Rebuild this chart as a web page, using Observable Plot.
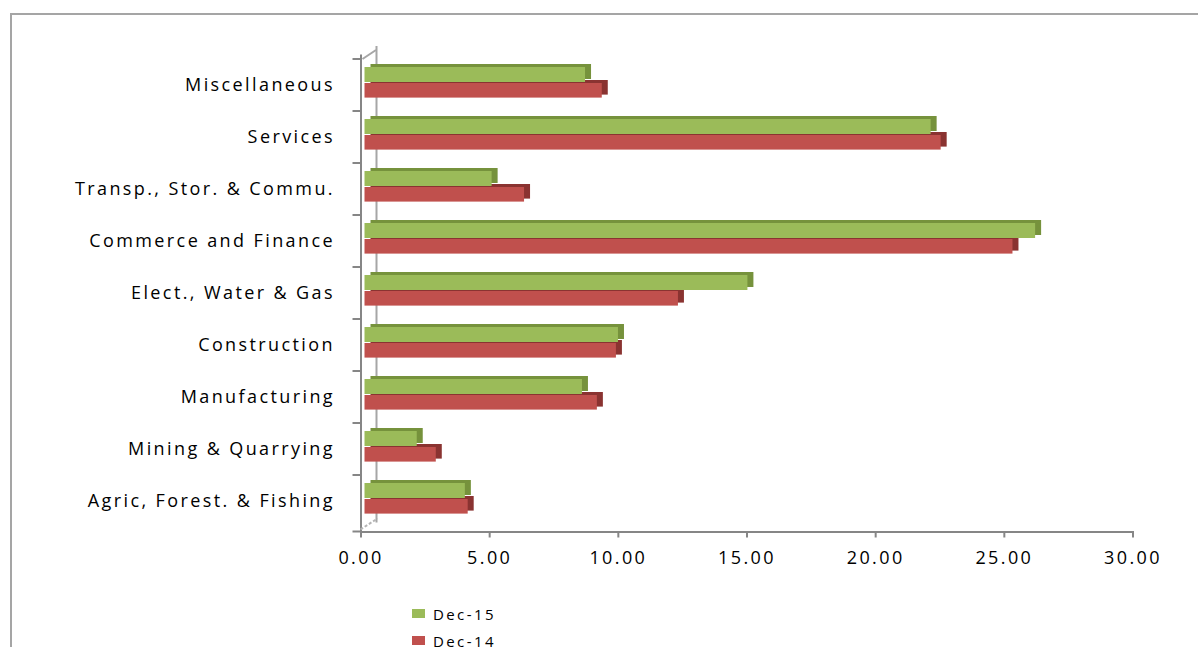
<!DOCTYPE html>
<html><head><meta charset="utf-8">
<script src="https://cdn.jsdelivr.net/npm/d3@7"></script>
<script src="https://cdn.jsdelivr.net/npm/@observablehq/plot@0.6"></script>
<style>
html,body{margin:0;padding:0;background:#fff;overflow:hidden;width:1198px;height:647px;}
#frame{position:absolute;left:10px;top:13px;width:1200px;height:700px;border-left:2px solid #a5a5a5;border-top:2px solid #a5a5a5;}
#chart{position:absolute;left:0;top:0;}
.lg{position:absolute;left:412px;font-family:"Open Sans";font-size:15px;letter-spacing:2.4px;color:#000;line-height:12px;height:12px;}
.lg span.sw{position:absolute;left:0;width:13px;height:9px;}
.lg span.tx{position:absolute;left:21px;white-space:nowrap;}
</style></head><body>
<div id="frame"></div><div id="chart"></div>
<div id="legend"></div>
<script>
const categories = ["Agric, Forest. & Fishing","Mining & Quarrying","Manufacturing","Construction","Elect., Water & Gas","Commerce and Finance","Transp., Stor. & Commu.","Services","Miscellaneous"];
const dec15 = [3.90, 2.03, 8.45, 9.85, 14.88, 26.06, 4.94, 22.00, 8.57];
const dec14 = [4.01, 2.77, 9.03, 9.77, 12.18, 25.18, 6.20, 22.39, 9.22];
const seriesNames = ["Dec-15", "Dec-14"];
const seriesColors = ["#9BBB59", "#C0504D"];
const seriesDark = ["#76923C", "#8A3331"];
const xTicks = [0, 5, 10, 15, 20, 25, 30];

const g = categories.map((c, i) => ({cat: c, value: dec15[i]}));
const r = categories.map((c, i) => ({cat: c, value: dec14[i]}));

const W = 1198, H = 590;
const plot = Plot.plot({
  width: W, height: H,
  marginLeft: 360.5, marginRight: 65.5, marginTop: 55, marginBottom: 58.5,
  style: {fontFamily: "Open Sans", fontSize: "18px", color: "#000", background: "transparent", overflow: "visible", letterSpacing: "2.4px"},
  x: {domain: [0, 30], ticks: xTicks},
  y: {domain: categories.slice().reverse(), padding: 0},
  marks: [
    Plot.ruleX([0], {dx: 15.5, dy: -9, stroke: "#a6a6a6", strokeWidth: 2}),
    Plot.barX(r, {x: "value", y: "cat", fill: seriesDark[1], insetTop: 24, insetBottom: 13.4, dx: 10, dy: -3}),
    Plot.barX(r, {x: "value", y: "cat", fill: seriesColors[1], insetTop: 24, insetBottom: 13.4, dx: 4}),
    Plot.barX(g, {x: "value", y: "cat", fill: seriesDark[0], insetTop: 8, insetBottom: 29, dx: 10, dy: -3}),
    Plot.barX(g, {x: "value", y: "cat", fill: seriesColors[0], insetTop: 8, insetBottom: 29, dx: 4}),
    Plot.frame({anchor: "left", stroke: "#868686", strokeWidth: 2}),
    Plot.frame({anchor: "bottom", stroke: "#868686", strokeWidth: 2}),
    Plot.axisX({ticks: xTicks, tickSize: 6, tickPadding: 13, stroke: "#868686", strokeWidth: 2, fontSize: 18, fill: "#000", tickFormat: d3.format(".2f"), label: null}),
    Plot.axisY({tickSize: 0, tickPadding: 26, fontSize: 18, fill: "#000", label: null})
  ]
});

// left ticks at band boundaries and 3D wall corners
const svg = d3.select(plot);
const yS = plot.scale("y");
const xS = plot.scale("x");
const x0 = xS.apply(0);
const bounds = categories.map(c => yS.apply(c)).concat([H - 58.5]);
const deco = svg.append("g").attr("stroke", "#868686").attr("stroke-width", 2);
bounds.forEach(b => deco.append("line").attr("x1", x0 - 8).attr("x2", x0).attr("y1", b).attr("y2", b));
const topY = d3.min(bounds), botY = d3.max(bounds);
deco.append("line").attr("x1", x0 + 2).attr("y1", topY).attr("x2", x0 + 15.5).attr("y2", topY - 9).attr("stroke", "#a6a6a6");
deco.append("line").attr("x1", x0).attr("y1", botY - 2).attr("x2", x0 + 17).attr("y2", botY - 13).attr("stroke", "#b5b5b5").attr("stroke-dasharray", "3,2");
document.getElementById("chart").appendChild(plot);

const lg = document.getElementById("legend");
seriesNames.forEach((s, i) => {
  const d = document.createElement("div");
  d.className = "lg";
  d.style.top = (609 + i * 27) + "px";
  d.innerHTML = `<span class="sw" style="background:${seriesColors[i]};top:0"></span><span class="tx" style="top:-1px">${s}</span>`;
  lg.appendChild(d);
});
</script>
</body></html>
